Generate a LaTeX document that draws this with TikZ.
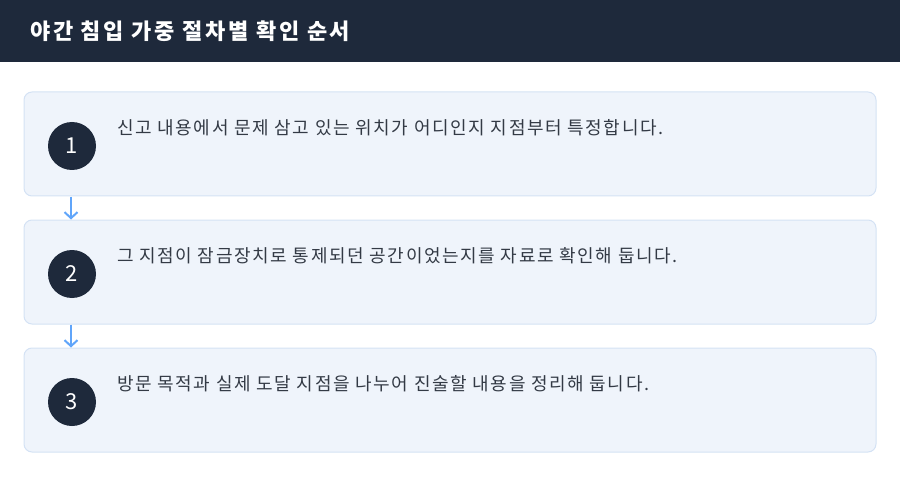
\documentclass[tikz,border=0pt]{standalone}
\usepackage{fontspec}
\setmainfont{Noto Sans CJK KR}
\usetikzlibrary{arrows.meta}
\definecolor{navy}{HTML}{1E293B}
\definecolor{stepfill}{HTML}{EFF4FB}
\definecolor{stepline}{HTML}{D4E2F4}
\definecolor{arrowblue}{HTML}{60A5FA}
\definecolor{bodytext}{HTML}{333A45}
\begin{document}
\begin{tikzpicture}[x=1pt, y=-1pt,
    stepbox/.style={rectangle, draw=stepline, fill=stepfill, line width=1pt, rounded corners=8pt,
                    minimum width=852pt, minimum height=104pt, inner sep=0pt},
    num/.style={circle, fill=navy, text=white, minimum size=48pt, inner sep=0pt,
                font=\fontsize{22}{24}\selectfont},
    desc/.style={anchor=west, inner sep=0pt, text=bodytext,
                 font=\fontsize{18}{22}\selectfont\addfontfeature{LetterSpace=9}},
    arr/.style={-{Straight Barb[length=6pt, width=13pt]}, draw=arrowblue, line width=2pt},
  ]
  \useasboundingbox (0,0) rectangle (900,484);

  % Header bar
  \fill[navy] (0,0) rectangle (900,62);
  \node[anchor=west, inner sep=0pt, text=white,
        font=\fontsize{22}{26}\selectfont\bfseries\addfontfeature{LetterSpace=12}] (title) at (30,31) {야간 침입 가중 절차별 확인 순서};

  % Step 1
  \node[stepbox] (s1) at (450,144) {};
  \node[num] (n1) at (72,146) {1};
  \node[desc] (d1) at (117,128) {신고 내용에서 문제 삼고 있는 위치가 어디인지 지점부터 특정합니다.};

  % Step 2
  \node[stepbox] (s2) at (450,272) {};
  \node[num] (n2) at (72,274) {2};
  \node[desc] (d2) at (117,256) {그 지점이 잠금장치로 통제되던 공간이었는지를 자료로 확인해 둡니다.};

  % Step 3
  \node[stepbox] (s3) at (450,400) {};
  \node[num] (n3) at (72,402) {3};
  \node[desc] (d3) at (117,384) {방문 목적과 실제 도달 지점을 나누어 진술할 내용을 정리해 둡니다.};

  % Arrows
  \draw[arr] ([xshift=-1pt]n1 |- s1.south) -- ([xshift=-1pt]n2 |- s2.north);
  \draw[arr] ([xshift=-1pt]n2 |- s2.south) -- ([xshift=-1pt]n3 |- s3.north);

\end{tikzpicture}
\end{document}
